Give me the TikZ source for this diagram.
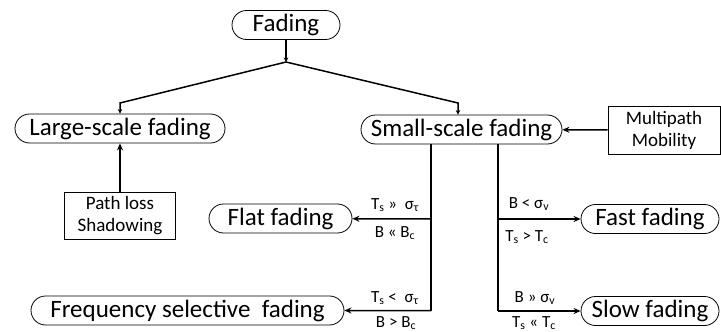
\documentclass[tikz,border=0pt]{standalone}
\usepackage{fontspec}
\setmainfont{Carlito}
\usetikzlibrary{shapes.misc,arrows.meta,positioning}
\tikzstyle{state} = [rounded rectangle, draw, line width=0.8pt, minimum height=29pt, inner sep=1pt, font=\fontsize{25}{28}\selectfont]
\tikzstyle{cause} = [rectangle, draw, line width=0.8pt, align=center, inner sep=2pt, font=\fontsize{19}{22}\selectfont]
\tikzstyle{cond} = [inner sep=1pt, font=\fontsize{17}{19}\selectfont]
\tikzstyle{line} = [line width=1.5pt]
\tikzstyle{arrow} = [line, -{Stealth[length=7pt,width=6pt]}]
\tikzstyle{tip} = [line, -{Stealth[length=4.5pt,width=4.5pt]}]

\begin{document}
\begin{tikzpicture}[x=1pt, y=-1pt]
    \useasboundingbox (0,0) rectangle (721,332);

    % Root
    \node [state, minimum width=110pt] (fading) at (286,25) {Fading};

    % Large and small scale
    \node [state, minimum width=212pt] (large) at (120,128.5) {Large-scale fading};
    \node [state, minimum width=203pt] (small) at (461.5,129.5) {Small-scale fading};

    % Causes
    \node [cause, minimum width=111pt, minimum height=47pt] (path) at (120,215.5) {Path loss\\Shadowing};
    \node [cause, minimum width=112pt, minimum height=48pt] (multi) at (664,130) {Multipath\\Mobility};

    % Leaves
    \node [state, minimum width=145pt] (flat) at (280.5,218.5) {Flat fading};
    \node [state, minimum width=315pt] (freq) at (187.5,310.5) {Frequency selective\ \ fading};
    \node [state, minimum width=140pt] (fast) at (650,219) {Fast fading};
    \node [state, minimum width=140pt] (slow) at (650,311) {Slow fading};

    % Branch points
    \coordinate (split) at (286,62);
    \coordinate (lbend) at (120,103);
    \coordinate (rbend) at (458,103);
    \coordinate (dtop) at (431,144);
    \coordinate (dflat) at (431,219);
    \coordinate (dfreq) at (431,310.5);
    \coordinate (ctop) at (498,144);
    \coordinate (cfast) at (498,219);
    \coordinate (cslow) at (498,311);

    % Connections
    \draw [tip] (fading) -- (split);
    \draw [tip] (split) -- (lbend) -- (large);
    \draw [tip] (split) -- (rbend) -- (rbend |- small.north);
    \draw [arrow] (path) -- (large);
    \draw [arrow] (multi) -- (small);
    \draw [line] (dtop) -- (dfreq);
    \draw [arrow] (dflat) -- (flat);
    \draw [arrow] (dfreq) -- (freq);
    \draw [line] (ctop) -- (cslow);
    \draw [arrow] (cfast) -- (fast);
    \draw [arrow] (cslow) -- (slow);

    % Conditions
    \node [cond] (c1) at (395,205) {T\textsubscript{s} »\ \ σ\textsubscript{τ}};
    \node [cond] (c2) at (395,233) {B « B\textsubscript{c}};
    \node [cond] (c3) at (395,298) {T\textsubscript{s} <\ \ σ\textsubscript{τ}};
    \node [cond] (c4) at (396,323) {B > B\textsubscript{c}};
    \node [cond] (c5) at (529,204) {B < σ\textsubscript{v}};
    \node [cond] (c6) at (527,237) {T\textsubscript{s} > T\textsubscript{c}};
    \node [cond] (c7) at (535,298) {B » σ\textsubscript{v}};
    \node [cond] (c8) at (534,323) {T\textsubscript{s} « T\textsubscript{c}};
\end{tikzpicture}
\end{document}
